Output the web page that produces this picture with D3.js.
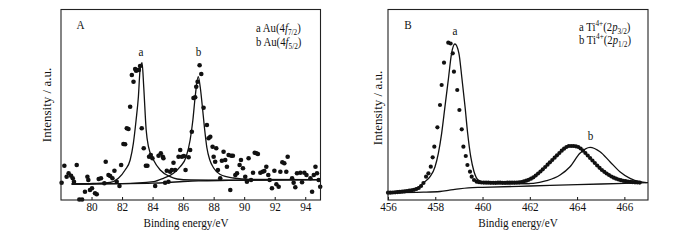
<!DOCTYPE html>
<html>
<head>
<meta charset="utf-8">
<script src="https://d3js.org/d3.v7.min.js"></script>
<style>
  body { margin: 0; background: #fff; }
  svg { font-family: "Liberation Serif", "Times New Roman", serif; }
</style>
</head>
<body>
<svg id="chart" width="700" height="240"></svg>
<script>
// ---- panel A : Au 4f ----
const auTicks = [80, 82, 84, 86, 88, 90, 92, 94];
const auPoints = [
  [78.04,17.3],[78.22,34.3],[78.37,23.3],[78.50,26.7],[78.66,24.3],[78.77,21.7],[78.85,18.3],[79.03,35],
  [79.20,0.5],[79.38,0.5],[79.57,8.3],[79.73,23.3],[79.79,20],[79.90,10],[80.03,11.7],[80.23,6.7],
  [80.34,5.7],[80.47,21],[80.62,21.7],[80.84,16.7],[80.93,38.3],[81.11,25],[81.22,24],[81.37,21.7],
  [81.50,29.3],[81.65,18.3],[81.83,14],[81.94,35],[82.09,56],[82.20,55.7],[82.31,71.7],[82.42,71],
  [82.53,93.3],[82.64,125],[82.75,118.3],[82.86,131],[82.92,129.3],[83.01,130],[83.10,130],[83.18,134],
  [83.29,71.7],[83.42,51.7],[83.56,34.3],[83.66,34.3],[83.77,43.3],[83.88,45],[83.99,41.7],[84.17,14],
  [84.39,44.3],[84.54,46.7],[84.67,43.3],[84.71,41.7],[84.82,17.3],[84.93,29.3],[85.04,18.3],[85.15,28.3],
  [85.26,30],[85.37,37.3],[85.48,30],[85.70,43.3],[85.81,50],[85.92,43.3],[86.05,44],[86.16,30],
  [86.36,42.7],[86.46,50],[86.57,68.3],[86.68,102],[86.79,102.7],[86.86,113.3],[86.95,118.3],[87.08,134.7],
  [87.19,126],[87.34,92.3],[87.56,75],[87.67,61.7],[87.78,63.3],[87.93,53.3],[88.00,43.3],[88.10,38.3],
  [88.17,51.7],[88.28,30],[88.43,21.7],[88.54,39.3],[88.65,48.3],[88.76,40],[88.87,33.3],[88.98,45],
  [89.09,10],[89.15,44.3],[89.26,44.3],[89.42,25],[89.53,26.7],[89.70,35],[89.79,40],[89.92,31.7],
  [90.07,23.3],[90.18,18.3],[90.29,41.7],[90.45,20],[90.58,27.3],[90.69,47.3],[90.80,46.7],[90.90,46],
  [91.06,27.3],[91.21,28.3],[91.32,29],[91.45,33.3],[91.58,25],[91.67,20],[91.82,11.7],[91.98,29.3],
  [92.11,15.7],[92.26,13.3],[92.37,28.3],[92.50,37.7],[92.63,36.7],[92.76,28.3],[92.85,43.3],[93.14,21.7],
  [93.24,17.3],[93.35,12.7],[93.46,26.7],[93.68,27.3],[93.79,17.7],[93.94,27.3],[94.08,25],[94.34,21.7],
  [94.45,8.3],[94.56,25],[94.67,33.3],[94.77,26.7],[94.88,20],[94.98,13.3]
];
const auBackground = [[78.7,16],[82,16.3],[84,16.8],[85,17.5],[86,18.5],[87,19.2],[89,19.6],[95,20.3]];
const auFitA = [
  [78.7,16],[80.1,16.5],[81.2,17.5],[81.76,21.7],[82.2,30],[82.53,40],[82.74,56.7],[82.92,80],
  [83.07,103.3],[83.18,130],[83.31,137.3],[83.42,113],[83.58,70],[83.73,53.3],[84.06,40],[84.5,30],
  [85.15,23.3],[85.6,21],[86.5,20],[88,19.8],[90,19.8],[95,20.3]
];
const auFitB = [
  [78.7,16],[82,16.4],[84.06,18.3],[84.71,21.7],[85.37,26.7],[85.81,33.3],[86.2,43.3],[86.46,60],
  [86.64,80],[86.79,103.3],[86.99,123.3],[87.12,113],[87.25,95],[87.4,72],[87.56,52],[87.75,40],
  [88.0,32],[88.43,25.5],[89.3,22],[90.4,20.7],[95,20.3]
];

// ---- panel B : Ti 2p ----
const tiTicks = [456, 458, 460, 462, 464, 466];
const tiPoints = [
  [456.0,7.3],[456.1,7.3],[456.2,7.5],[456.3,7.7],[456.4,7.9],[456.5,8.1],[456.6,8.3],[456.7,8.6],
  [456.8,9],[456.9,9.3],[457.0,9.7],[457.1,10.2],[457.2,11],[457.3,12],[457.4,14],[457.5,17],
  [457.61,23.3],[457.71,26.7],[457.81,33.3],[457.89,42.7],[457.96,53.3],[458.09,72.7],[458.2,95],[458.27,115],
  [458.37,137.3],[458.55,157.3],[458.65,156.5],[458.74,146.7],[458.79,128.3],[458.93,110],[459.02,90],[459.12,70.7],
  [459.19,53.3],[459.29,44],[459.36,35],[459.47,28.3],[459.54,23.3],[459.64,20],[459.75,18.3],[459.85,17.8],
  [459.95,17.5],[460.05,17.4],[460.15,17.3],[460.25,17.3],[460.35,17.2],[460.45,17.2],[460.55,17.2],[460.65,17.3],
  [460.75,17.3],[460.85,17.2],[460.95,17.2],[461.05,17.3],[461.15,17.3],[461.25,17.4],[461.35,17.4],[461.45,17.5],
  [461.55,17.7],[461.65,18],[461.75,18.6],[461.85,19.3],[461.95,20.2],[462.05,21.3],[462.15,22.7],[462.25,24.5],
  [462.35,26.5],[462.45,28.5],[462.55,30.7],[462.65,33],[462.75,35.3],[462.85,37.7],[462.95,40],[463.05,42.3],
  [463.15,44.7],[463.25,47],[463.35,49.3],[463.45,51.3],[463.55,53],[463.65,54],[463.75,54],[463.85,54],
  [463.95,53.7],[464.05,53],[464.15,51.5],[464.25,49.3],[464.35,47],[464.45,44.5],[464.55,42],[464.65,39.5],
  [464.75,37],[464.85,34.5],[464.95,32.2],[465.05,30],[465.15,28.2],[465.25,26.5],[465.35,25],[465.45,23.5],
  [465.55,22.3],[465.65,21.3],[465.75,20.5],[465.85,19.8],[465.95,19.2],[466.05,18.8],[466.15,18.4],[466.25,18.1],
  [466.35,17.9],[466.45,17.7],[466.55,17.5],[466.65,17.4]
];
const tiBackground = [[456,7.3],[457.5,7.8],[458.2,8.5],[458.6,9.8],[459,11.2],[459.4,12.2],[460,12.7],[462,14],[464,15.3],[466,16.7],[467,17.3]];
const tiFitA = [
  [456,7.5],[456.37,8.5],[457.07,11],[457.3,13],[457.49,17],[457.78,23.3],[457.99,33.3],[458.13,46.7],
  [458.27,66.7],[458.41,93.3],[458.55,120],[458.69,146.7],[458.83,156],[459.0,146.7],[459.12,123.3],[459.26,93.3],
  [459.37,66.7],[459.5,43.3],[459.64,28.3],[459.82,20],[460.17,17],[461,16.5],[462,16.3]
];
const tiFitB = [
  [460.5,16.3],[461.5,16.3],[462.15,16.7],[462.71,19.3],[463.28,25],[463.7,33.3],[464.12,46.7],[464.55,52.7],
  [464.97,48.3],[465.39,38.3],[465.81,28.3],[466.24,21.7],[466.66,18.3],[466.94,17.3]
];

const svg = d3.select("#chart");
const squeeze = 0.86;   // the original figure is a bit narrower than its lettering
const fontSize = 13;

function hText(g, x, y, str, anchor) {
  return g.append("text")
    .attr("transform", `translate(${x},${y}) scale(${squeeze},1)`)
    .attr("text-anchor", anchor || "start")
    .attr("font-size", fontSize)
    .attr("fill", "#111")
    .text(str);
}

function richText(g, x, y, parts) {
  const t = g.append("text")
    .attr("transform", `translate(${x},${y}) scale(${squeeze},1)`)
    .attr("fill", "#111")
    .attr("font-size", 12.5);
  let shift = 0;
  parts.forEach(p => {
    let size = 12.5, target = 0;
    if (p.sub) { target = 3; size = 8.5; }
    if (p.sup) { target = -4.5; size = 8.5; }
    const dy = target - shift;
    shift = target;
    t.append("tspan")
      .attr("dy", dy)
      .attr("font-size", size)
      .attr("font-style", p.it ? "italic" : null)
      .text(p.t);
  });
}

function drawPanel(p) {
  const x = d3.scaleLinear().domain(p.xDomain).range([p.left, p.right]);
  const y = d3.scaleLinear().domain([0, 190.5]).range([200, 9.5]);
  const g = svg.append("g");

  const line = d3.line().x(d => x(d[0])).y(d => y(d[1])).curve(d3.curveMonotoneX);
  [p.background, p.fitA, p.fitB].forEach(s => {
    g.append("path").datum(s).attr("d", line)
      .attr("fill", "none").attr("stroke", "#111").attr("stroke-width", 1.3);
  });

  g.selectAll("circle.dot").data(p.points).join("circle")
    .attr("class", "dot")
    .attr("cx", d => x(d[0]))
    .attr("cy", d => y(d[1]))
    .attr("r", p.r)
    .attr("fill", "#111");

  const axis = g.append("g").attr("transform", "translate(0,200)")
    .call(d3.axisBottom(x).tickValues(p.ticks).tickSize(-3).tickPadding(1.5).tickFormat(d3.format("d")));
  axis.select(".domain").remove();
  axis.selectAll(".tick line").attr("stroke", "#111");
  axis.selectAll(".tick text")
    .attr("font-size", fontSize)
    .attr("font-family", "Liberation Serif, Times New Roman, serif")
    .attr("fill", "#111")
    .attr("transform", `scale(${squeeze},1)`);

  g.append("rect")
    .attr("x", p.left).attr("y", 9.5)
    .attr("width", p.right - p.left).attr("height", 190.5)
    .attr("fill", "none").attr("stroke", "#222").attr("stroke-width", 1.1);

  hText(g, p.xTitleX, 227, p.xTitle, "middle");
  g.append("text")
    .attr("transform", `translate(${p.yTitleX},${p.yTitleY}) rotate(-90)`)
    .attr("text-anchor", "middle")
    .attr("font-size", fontSize)
    .attr("fill", "#111")
    .text("Intensity / a.u.");

  hText(g, p.panelX, 29, p.panel, "middle");
  p.peaks.forEach(k => hText(g, k.x, k.y, k.t, "middle"));
  richText(g, p.legX, p.legY[0], p.legend[0]);
  richText(g, p.legX, p.legY[1], p.legend[1]);
}

drawPanel({
  xDomain: [78, 95], left: 61, right: 320.5, ticks: auTicks,
  points: auPoints, background: auBackground, fitA: auFitA, fitB: auFitB, r: 2.3,
  xTitle: "Binding energy/eV", xTitleX: 186, yTitleX: 50.5, yTitleY: 105,
  panel: "A", panelX: 80.5,
  peaks: [{ t: "a", x: 141, y: 55.5 }, { t: "b", x: 198.5, y: 55.5 }],
  legX: 256, legY: [32, 45.5],
  legend: [
    [{ t: "a Au(4" }, { t: "f", it: true }, { t: "7/2", sub: true }, { t: ")" }],
    [{ t: "b Au(4" }, { t: "f", it: true }, { t: "5/2", sub: true }, { t: ")" }]
  ]
});

drawPanel({
  xDomain: [456, 467], left: 388, right: 648, ticks: tiTicks,
  points: tiPoints, background: tiBackground, fitA: tiFitA, fitB: tiFitB, r: 2.1,
  xTitle: "Bindig energy/eV", xTitleX: 518, yTitleX: 381.5, yTitleY: 108,
  panel: "B", panelX: 408,
  peaks: [{ t: "a", x: 455, y: 35 }, { t: "b", x: 590.5, y: 140 }],
  legX: 579, legY: [30.5, 43.5],
  legend: [
    [{ t: "a Ti" }, { t: "4+", sup: true }, { t: "(2" }, { t: "p", it: true }, { t: "3/2", sub: true }, { t: ")" }],
    [{ t: "b Ti" }, { t: "4+", sup: true }, { t: "(2" }, { t: "p", it: true }, { t: "1/2", sub: true }, { t: ")" }]
  ]
});
</script>
</body>
</html>
